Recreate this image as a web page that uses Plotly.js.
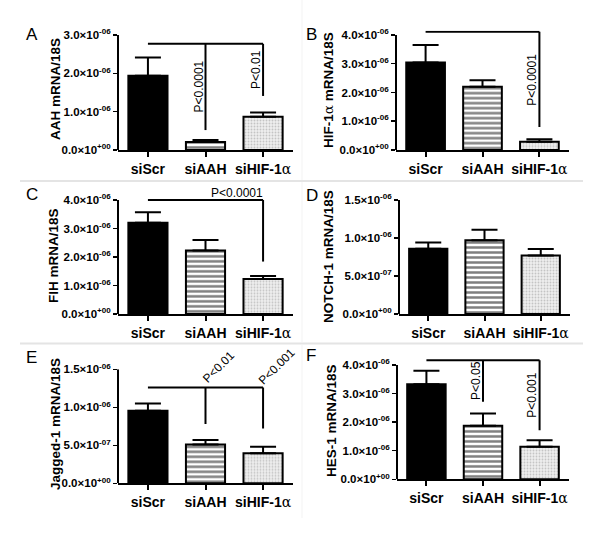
<!DOCTYPE html>
<html><head><meta charset="utf-8">
<script src="https://cdn.plot.ly/plotly-3.0.1.min.js"></script>
<style>html,body{margin:0;padding:0;background:#fff}#chart{width:600px;height:533px}</style>
</head><body><div id="chart"></div>
<script>
// ---------- DATA ----------
const categories = ['siScr', 'siAAH', 'siHIF-1α'];
const categoryLabels = ['siScr', 'siAAH', 'siHIF-1<span style="font-weight:normal;font-family:DejaVu Serif">α</span>'];

// A: AAH
const aahMean = [1.94e-6, 0.21e-6, 0.87e-6];
const aahErr  = [0.47e-6, 0.05e-6, 0.11e-6];
const aahTicks = [0, 1e-6, 2e-6, 3e-6];
// B: HIF-1a
const hifMean = [3.04e-6, 2.20e-6, 0.29e-6];
const hifErr  = [0.61e-6, 0.23e-6, 0.08e-6];
const hifTicks = [0, 1e-6, 2e-6, 3e-6, 4e-6];
// C: FIH
const fihMean = [3.20e-6, 2.23e-6, 1.23e-6];
const fihErr  = [0.37e-6, 0.37e-6, 0.10e-6];
const fihTicks = [0, 1e-6, 2e-6, 3e-6, 4e-6];
// D: NOTCH-1
const notchMean = [0.86e-6, 0.97e-6, 0.77e-6];
const notchErr  = [0.08e-6, 0.14e-6, 0.085e-6];
const notchTicks = [0, 5e-7, 1e-6, 1.5e-6];
// E: Jagged-1
const jagMean = [0.955e-6, 0.51e-6, 0.395e-6];
const jagErr  = [0.095e-6, 0.06e-6, 0.085e-6];
const jagTicks = [0, 5e-7, 1e-6, 1.5e-6];
// F: HES-1
const hesMean = [3.33e-6, 1.87e-6, 1.14e-6];
const hesErr  = [0.47e-6, 0.43e-6, 0.23e-6];
const hesTicks = [0, 1e-6, 2e-6, 3e-6, 4e-6];

// significance brackets: top level, target bars, bottom of drop lines, labels
const aahSigY = 2.77e-6, aahSigTo = [1, 2], aahSigDrop = [0.52e-6, 1.41e-6], aahSigText = ['P<0.0001', 'P<0.01'];
const hifSigY = 4.11e-6, hifSigTo = [2], hifSigDrop = [0.80e-6], hifSigText = ['P<0.0001'];
const fihSigY = 4.0e-6, fihSigTo = [2], fihSigDrop = [1.84e-6], fihSigText = ['P<0.0001'];
const jagSigY = 1.26e-6, jagSigTo = [1, 2], jagSigDrop = [0.78e-6, 0.72e-6], jagSigText = ['P<0.01', 'P<0.001'];
const hesSigY = 4.17e-6, hesSigTo = [1, 2], hesSigDrop = [2.71e-6, 1.72e-6], hesSigText = ['P<0.05', 'P<0.001'];

// ---------- STYLE / LAYOUT (pixels) ----------
const W = 600, H = 533;
const FONT = 'Liberation Sans, Arial, sans-serif';
const barStyles = [
  {color: '#000000', pattern: {shape: ''}},
  {color: '#ffffff', pattern: {shape: '-', fgcolor: '#000000', bgcolor: '#ffffff', size: 5, solidity: 0.5, fillmode: 'overlay'}},
  {color: '#ececec', pattern: {shape: '.', fgcolor: '#9a9a9a', bgcolor: '#eeeeee', size: 3, solidity: 0.3, fillmode: 'overlay'}}
];
const panels = [
  {letter:'A', title:'AAH mRNA/18S', mean:aahMean, err:aahErr, ticks:aahTicks,
   sig:{y:aahSigY, to:aahSigTo, drop:aahSigDrop, text:aahSigText, style:'vert'},
   px:{x0:118, x1:293, zero:150, top:35}, titlePos:[55, 89], letterPos:[32, 35]},
  {letter:'B', title:'HIF-1<span style="font-weight:normal;font-family:DejaVu Serif">α</span> mRNA/18S', mean:hifMean, err:hifErr, ticks:hifTicks,
   sig:{y:hifSigY, to:hifSigTo, drop:hifSigDrop, text:hifSigText, style:'vert'},
   px:{x0:396, x1:569, zero:150, top:35}, titlePos:[328, 90], letterPos:[311, 35]},
  {letter:'C', title:'FIH mRNA/18S', mean:fihMean, err:fihErr, ticks:fihTicks,
   sig:{y:fihSigY, to:fihSigTo, drop:fihSigDrop, text:fihSigText, style:'horiz'},
   px:{x0:118, x1:293, zero:314, top:200}, titlePos:[53, 256], letterPos:[32, 194]},
  {letter:'D', title:'NOTCH-1 mRNA/18S', mean:notchMean, err:notchErr, ticks:notchTicks,
   sig:null,
   px:{x0:399, x1:570, zero:314, top:200}, titlePos:[328, 257], letterPos:[312, 195]},
  {letter:'E', title:'Jagged-1 mRNA/18S', mean:jagMean, err:jagErr, ticks:jagTicks,
   sig:{y:jagSigY, to:jagSigTo, drop:jagSigDrop, text:jagSigText, style:'diag'},
   px:{x0:118, x1:293, zero:483.3, top:369.3}, titlePos:[55, 424], letterPos:[31, 357]},
  {letter:'F', title:'HES-1 mRNA/18S', mean:hesMean, err:hesErr, ticks:hesTicks,
   sig:{y:hesSigY, to:hesSigTo, drop:hesSigDrop, text:hesSigText, style:'vert'},
   px:{x0:397, x1:569, zero:479.3, top:365}, titlePos:[331, 421], letterPos:[311, 355]}
];

function fmtTick(v) {
  if (v === 0) return '0.0×10<sup>+00</sup>';
  const e = Math.floor(Math.log10(v) + 1e-9);
  const m = v / Math.pow(10, e);
  const es = (e < 0 ? '-' : '+') + String(Math.abs(e)).padStart(2, '0');
  return m.toFixed(1) + '×10<sup>' + es + '</sup>';
}

const traces = [], shapes = [], annotations = [];
const layout = {
  width: W, height: H, margin: {l:0, r:0, t:0, b:0},
  paper_bgcolor: '#fff', plot_bgcolor: 'rgba(0,0,0,0)',
  showlegend: false, barmode: 'overlay', font: {family: FONT, color: '#000'}
};
const XR = [-0.52, 2.52];

panels.forEach((p, k) => {
  const i = k + 1;
  const sx = i === 1 ? '' : String(i);
  const topTick = p.ticks[p.ticks.length - 1];
  const ppu = (p.px.zero - p.px.top) / topTick;
  const sigTop = p.sig ? p.sig.y : 0;
  const R = Math.max(topTick, sigTop * 1.01);
  const topPx = p.px.zero - R * ppu;

  layout['xaxis' + sx] = {
    domain: [p.px.x0 / W, p.px.x1 / W], range: XR, anchor: 'y' + sx,
    tickvals: [0, 1, 2], ticktext: categoryLabels,
    ticks: 'outside', ticklen: 5, tickwidth: 2, tickcolor: '#000',
    showline: true, linewidth: 2, linecolor: '#000',
    showgrid: false, zeroline: false, fixedrange: true,
    tickfont: {family: FONT, size: 14, color: '#000', weight: 700}
  };
  layout['yaxis' + sx] = {
    domain: [1 - p.px.zero / H, 1 - topPx / H], range: [0, R], anchor: 'x' + sx,
    tickvals: p.ticks, ticktext: p.ticks.map(fmtTick),
    ticks: 'outside', ticklen: 4, tickwidth: 1.5, tickcolor: '#000',
    showline: false, showgrid: false, zeroline: false, fixedrange: true,
    tickfont: {family: FONT, size: 11.5, color: '#000', weight: 700}
  };

  categories.forEach((c, j) => {
    traces.push({
      type: 'bar', x: [j], y: [p.mean[j]], width: 0.68, name: c,
      xaxis: 'x' + sx, yaxis: 'y' + sx, hoverinfo: 'skip',
      marker: {color: barStyles[j].color, line: {color: '#000', width: 2}, pattern: barStyles[j].pattern},
      error_y: {type: 'data', symmetric: false, array: [p.err[j]], arrayminus: [0],
                color: '#000', thickness: 2, width: 13}
    });
  });

  // y axis line from 0 to top tick
  shapes.push({type: 'line', xref: 'x' + sx + ' domain', yref: 'y' + sx,
    x0: 0, x1: 0, y0: 0, y1: topTick, line: {color: '#000', width: 2}});

  annotations.push({xref: 'paper', yref: 'paper', x: p.titlePos[0] / W, y: 1 - p.titlePos[1] / H,
    text: p.title, textangle: -90, showarrow: false, xanchor: 'center', yanchor: 'middle',
    font: {family: FONT, size: 13.5, color: '#000', weight: 700}});
  annotations.push({xref: 'paper', yref: 'paper', x: p.letterPos[0] / W, y: 1 - p.letterPos[1] / H,
    text: p.letter, showarrow: false, xanchor: 'center', yanchor: 'middle',
    font: {family: FONT, size: 17, color: '#000'}});

  if (p.sig) {
    const s = p.sig;
    const xEnd = s.to[s.to.length - 1];
    shapes.push({type: 'line', xref: 'x' + sx, yref: 'y' + sx, x0: 0, x1: xEnd, y0: s.y, y1: s.y,
      line: {color: '#000', width: 2}});
    s.to.forEach((t, j) => {
      shapes.push({type: 'line', xref: 'x' + sx, yref: 'y' + sx, x0: t, x1: t, y0: s.y, y1: s.drop[j],
        line: {color: '#000', width: 2}});
      const a = {xref: 'x' + sx, yref: 'y' + sx, showarrow: false, text: s.text[j],
        font: {family: FONT, size: 12, color: '#000'}};
      if (s.style === 'vert') {
        Object.assign(a, {x: t, y: (s.y + s.drop[j]) / 2, textangle: -90, xanchor: 'center', yanchor: 'middle', xshift: -7});
      } else if (s.style === 'horiz') {
        Object.assign(a, {x: t / 2 + 0.55, y: s.y, xanchor: 'center', yanchor: 'bottom', yshift: -2});
      } else {
        Object.assign(a, {x: t, y: s.y, textangle: -45, xanchor: 'center', yanchor: 'middle', xshift: 13, yshift: 21});
      }
      annotations.push(a);
    });
  }
});

// separators between rows
[181, 343.5].forEach(yp => shapes.push({type: 'line', xref: 'paper', yref: 'paper',
  x0: 20 / W, x1: 583 / W, y0: 1 - yp / H, y1: 1 - yp / H, line: {color: '#e4e4e4', width: 2}}));
[[0, 180], [182, 342], [345, 518]].forEach(r => shapes.push({type: 'line', xref: 'paper', yref: 'paper',
  x0: 302 / W, x1: 302 / W, y0: 1 - r[0] / H, y1: 1 - r[1] / H, line: {color: '#f3f3f3', width: 1}}));

layout.shapes = shapes;
layout.annotations = annotations;
Plotly.newPlot('chart', traces, layout, {staticPlot: true, displayModeBar: false});
</script>
</body></html>
